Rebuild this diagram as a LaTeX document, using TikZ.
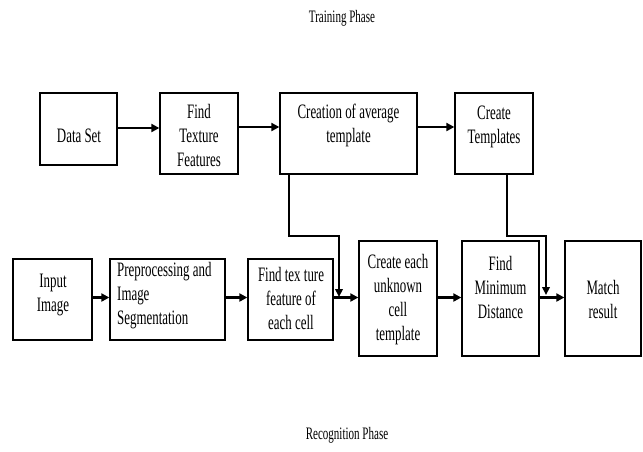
\documentclass[tikz,border=0pt]{standalone}
\usepackage{fontspec}
\setmainfont{Liberation Serif}
\newfontfamily\condfont[FakeStretch=0.63]{Liberation Serif}
\usetikzlibrary{arrows.meta,calc}
\tikzset{
  box/.style={draw, line width=1.3pt, inner sep=0pt},
  txt/.style={align=center, inner sep=0pt, font=\condfont\fontsize{20.5}{24}\selectfont},
  ttl/.style={inner sep=0pt, font=\condfont\fontsize{17.5}{20}\selectfont},
  arr/.style={line width=2.6pt, -{Triangle[length=8pt,width=8pt]}},
  feed/.style={line width=2pt, -{Triangle[length=8pt,width=7.5pt]}}
}
\begin{document}
\begin{tikzpicture}[x=1pt,y=-1pt]
\useasboundingbox (0,0) rectangle (643,451);
% titles
\node[ttl] (t1) at (342,18) {Training Phase};
\node[ttl] (t2) at (347,435) {Recognition Phase};
% top row boxes
\node[box, minimum width=77pt, minimum height=72pt] (ds) at (78.5,129) {};
\node[box, minimum width=78pt, minimum height=81pt] (ftf) at (199,133.5) {};
\node[box, minimum width=137pt, minimum height=81pt] (cat) at (348.5,133.5) {};
\node[box, minimum width=78pt, minimum height=81pt] (ct) at (494,133.5) {};
% bottom row boxes
\node[box, minimum width=79pt, minimum height=81pt] (ii) at (52.5,299.5) {};
\node[box, minimum width=115pt, minimum height=81pt] (pp) at (167.5,299.5) {};
\node[box, minimum width=85pt, minimum height=81pt] (ft) at (290.5,299.5) {};
\node[box, minimum width=78pt, minimum height=115pt] (cu) at (398,298.5) {};
\node[box, minimum width=77pt, minimum height=115pt] (fm) at (500.5,298.5) {};
\node[box, minimum width=76pt, minimum height=115pt] (mr) at (603,298.5) {};
% texts
\node[txt] (ds-t) at (79,136) {Data Set};
\node[txt, anchor=north] (ftf-t) at (199,104) {Find\\Texture\\Features};
\node[txt, anchor=north] (cat-t) at (348.5,104) {Creation of average\\template};
\node[txt, anchor=north] (ct-t) at (494,106) {Create\\Templates};
\node[txt] (ii-t) at (53,295) {Input\\Image};
\node[txt, align=left, anchor=west] (pp-t) at (117,296) {Preprocessing and\\Image\\Segmentation};
\node[txt] (ft-t) at (291,298) {Find tex ture\\feature of\\each cell};
\node[txt] (cu-t) at (398,300) {Create each\\unknown\\cell\\template};
\node[txt] (fm-t) at (500.5,287) {Find\\Minimum\\Distance};
\node[txt] (mr-t) at (603,299) {Match\\result};
% helper coordinates
\coordinate (yt) at (0,127);
\coordinate (yb) at (0,297.5);
\coordinate (ya) at (0,236);
\coordinate (s1) at (289,0);
\coordinate (j1) at (339,297);
\coordinate (s2) at (507,0);
\coordinate (j2) at (546,295);
% top row arrows
\draw[arr] (ds.east |- 0,128) -- (ftf.west |- 0,128);
\draw[arr] (ftf.east |- yt) -- (cat.west |- yt);
\draw[arr] (cat.east |- yt) -- (ct.west |- yt);
% bottom row arrows
\draw[arr] (ii.east |- yb) -- (pp.west |- yb);
\draw[arr] (pp.east |- yb) -- (ft.west |- yb);
\draw[arr] (ft.east |- yb) -- (cu.west |- yb);
\draw[arr] (cu.east |- yb) -- (fm.west |- yb);
\draw[arr] (fm.east |- yb) -- (mr.west |- yb);
% feed connectors
\draw[feed] (s1 |- cat.south) -- (s1 |- ya) -- (j1 |- ya) -- (j1);
\draw[feed] (s2 |- ct.south) -- (s2 |- ya) -- (j2 |- ya) -- (j2);
\end{tikzpicture}
\end{document}
